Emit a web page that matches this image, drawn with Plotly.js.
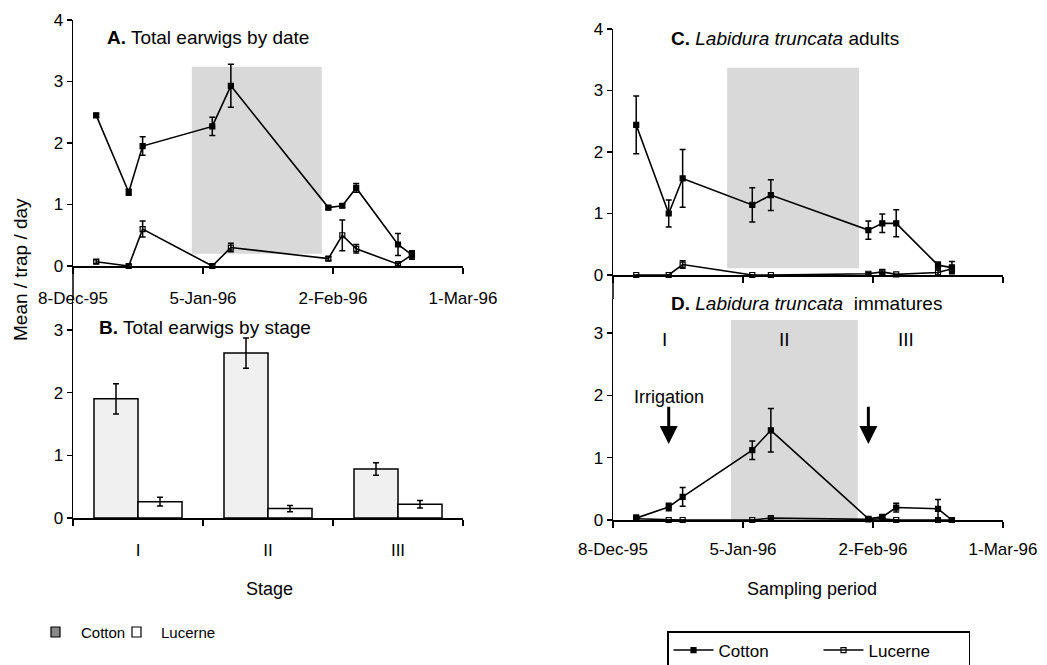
<!DOCTYPE html>
<html>
<head>
<meta charset="utf-8">
<script src="https://cdn.plot.ly/plotly-3.0.1.min.js"></script>
<style>html,body{margin:0;padding:0;background:#fff;}#chart{width:1047px;height:665px;}</style>
</head>
<body>
<div id="chart"></div>
<script>
// ---------- data ----------
const dates = ['1995-12-13','1995-12-20','1995-12-23','1996-01-07','1996-01-11','1996-02-01','1996-02-04','1996-02-07','1996-02-16','1996-02-19'];
const dateTickVals = ['1995-12-08','1996-01-05','1996-02-02','1996-03-01'];
const dateTickText = ['8-Dec-95','5-Jan-96','2-Feb-96','1-Mar-96'];

// A. Total earwigs by date
const totalCotton     = [2.45, 1.20, 1.95, 2.27, 2.93, 0.95, 0.98, 1.27, 0.35, 0.18];
const totalCottonErr  = [0.03, 0.05, 0.15, 0.15, 0.35, 0.03, 0.03, 0.07, 0.18, 0.07];
const totalLucerne    = [0.07, 0.00, 0.60, 0.00, 0.30, 0.12, 0.50, 0.28, 0.03, 0.18];
const totalLucerneErr = [0.03, 0.02, 0.13, 0.02, 0.07, 0.03, 0.25, 0.07, 0.02, 0.05];

// B. Total earwigs by stage
const stages = ['I', 'II', 'III'];
const stageCotton     = [1.90, 2.63, 0.78];
const stageCottonErr  = [0.24, 0.24, 0.10];
const stageLucerne    = [0.26, 0.15, 0.22];
const stageLucerneErr = [0.07, 0.05, 0.06];

// C. Labidura truncata adults
const adultCotton     = [2.44, 1.00, 1.57, 1.14, 1.30, 0.73, 0.84, 0.84, 0.16, 0.12];
const adultCottonErr  = [0.47, 0.22, 0.47, 0.28, 0.25, 0.15, 0.15, 0.22, 0.05, 0.10];
const adultLucerne    = [0.00, 0.00, 0.17, 0.00, 0.00, 0.02, 0.05, 0.01, 0.04, 0.10];
const adultLucerneErr = [0.00, 0.00, 0.06, 0.00, 0.00, 0.02, 0.03, 0.00, 0.04, 0.06];

// D. Labidura truncata immatures
const immCotton       = [0.03, 0.21, 0.37, 1.12, 1.44, 0.02, 0.05, 0.20, 0.18, 0.00];
const immCottonErr    = [0.05, 0.06, 0.15, 0.15, 0.35, 0.02, 0.03, 0.07, 0.15, 0.02];
const immLucerne      = [0.02, 0.00, 0.00, 0.00, 0.03, 0.01, 0.02, 0.00, 0.00, 0.00];
const immLucerneErr   = [0.02, 0.00, 0.00, 0.00, 0.02, 0.00, 0.00, 0.00, 0.00, 0.00];

// shaded period (stage II) per panel
const shadeA = {x0: '1996-01-02 14:00', x1: '1996-01-30 14:00', y0: 0.2, y1: 3.24};
const shadeC = {x0: '1996-01-01 14:00', x1: '1996-01-30 00:00', y0: 0.11, y1: 3.37};
const shadeD = {x0: '1996-01-02 10:00', x1: '1996-01-29 17:00', y0: 0.0, y1: 3.21};

// irrigation dates and stage label positions in panel D
const irrigationDates = ['1995-12-20', '1996-02-01'];
const stageLabelDates = ['1995-12-19', '1996-01-14', '1996-02-09'];

// bar-panel key labels
const barKeyNames = ['Cotton', 'Lucerne'];

// ---------- helpers ----------
const W = 1047, H = 665;
const px = v => v / W;
const py = v => 1 - v / H;
const FONT = 'Liberation Sans, Arial, Helvetica, sans-serif';

function lineTrace(x, y, err, xa, ya, name, filled, showLegend) {
  return {
    type: 'scatter', mode: 'lines+markers', x: x, y: y,
    xaxis: xa, yaxis: ya, name: name, showlegend: showLegend,
    line: {color: '#000', width: 1.6},
    marker: {symbol: filled ? 'square' : 'square-open', size: 5, color: '#000', line: {color: '#000', width: 1.2}},
    error_y: {type: 'data', array: err, visible: true, color: '#000', thickness: 1.5, width: 3},
    cliponaxis: false
  };
}

const traces = [
  lineTrace(dates, totalCotton, totalCottonErr, 'x', 'y', 'Cotton', true, false),
  lineTrace(dates, totalLucerne, totalLucerneErr, 'x', 'y', 'Lucerne', false, false),
  {
    type: 'bar', x: stages, y: stageCotton, xaxis: 'x2', yaxis: 'y2', name: 'Cotton', showlegend: false,
    marker: {color: '#f0f0f0', line: {color: '#000', width: 1.5}},
    error_y: {type: 'data', array: stageCottonErr, color: '#000', thickness: 1.5, width: 3}
  },
  {
    type: 'bar', x: stages, y: stageLucerne, xaxis: 'x2', yaxis: 'y2', name: 'Lucerne', showlegend: false,
    marker: {color: '#ffffff', line: {color: '#000', width: 1.5}},
    error_y: {type: 'data', array: stageLucerneErr, color: '#000', thickness: 1.5, width: 3}
  },
  lineTrace(dates, adultCotton, adultCottonErr, 'x3', 'y3', 'Cotton', true, true),
  lineTrace(dates, adultLucerne, adultLucerneErr, 'x3', 'y3', 'Lucerne', false, true),
  lineTrace(dates, immCotton, immCottonErr, 'x4', 'y4', 'Cotton', true, false),
  lineTrace(dates, immLucerne, immLucerneErr, 'x4', 'y4', 'Lucerne', false, false)
];

const tickFont = {family: FONT, size: 17, color: '#000'};
function dateAxis(x0, x1, anchor, labels, standoff) {
  return {
    type: 'date', domain: [px(x0), px(x1)], anchor: anchor,
    range: ['1995-12-08', '1996-03-01'],
    tickmode: 'array', tickvals: dateTickVals, ticktext: dateTickText, showticklabels: labels,
    showline: true, linecolor: '#000', linewidth: 1.5,
    ticks: 'outside', ticklen: 6, tickwidth: 1.3, tickcolor: '#000', ticklabelstandoff: standoff,
    showgrid: false, zeroline: false, tickfont: tickFont, fixedrange: true, automargin: false
  };
}
function valAxis(yTopPx, yBotPx, top, anchor) {
  return {
    domain: [py(yBotPx), py(yTopPx)], anchor: anchor,
    range: [0, top], tickmode: 'linear', tick0: 0, dtick: 1,
    showline: true, linecolor: '#000', linewidth: 1.5,
    ticks: 'outside', ticklen: 5, tickwidth: 1.3, tickcolor: '#000',
    showgrid: false, zeroline: false, tickfont: tickFont, fixedrange: true, automargin: false
  };
}

function shadeShape(s, xr, yr) {
  return {type: 'rect', xref: xr, yref: yr, x0: s.x0, x1: s.x1, y0: s.y0, y1: s.y1,
          fillcolor: '#d9d9d9', line: {width: 0}, layer: 'below'};
}

const shapes = [
  shadeShape(shadeA, 'x', 'y'),
  shadeShape(shadeC, 'x3', 'y3'),
  shadeShape(shadeD, 'x4', 'y4'),
  {type: 'line', xref: 'paper', yref: 'paper', x0: px(73), x1: px(73), y0: py(266), y1: py(300), line: {color: '#000', width: 1.5}},
  {type: 'line', xref: 'paper', yref: 'paper', x0: px(613), x1: px(613), y0: py(275), y1: py(299), line: {color: '#000', width: 1.5}},
  // key swatches for the bar panel
  {type: 'rect', xref: 'paper', yref: 'paper', x0: px(51), x1: px(60), y0: py(637), y1: py(627),
   fillcolor: '#8a8a8a', line: {color: '#000', width: 1.2}},
  {type: 'rect', xref: 'paper', yref: 'paper', x0: px(132), x1: px(141), y0: py(637), y1: py(627),
   fillcolor: '#fff', line: {color: '#000', width: 1.2}}
];

const annFont = {family: FONT, size: 19, color: '#000'};
const annotations = [
  {xref: 'paper', yref: 'paper', x: px(105), y: py(37), xanchor: 'left', yanchor: 'middle', showarrow: false,
   text: '<b>A.</b> Total earwigs by date', font: annFont},
  {xref: 'paper', yref: 'paper', x: px(97), y: py(327), xanchor: 'left', yanchor: 'middle', showarrow: false,
   text: '<b>B.</b> Total earwigs by stage', font: annFont},
  {xref: 'paper', yref: 'paper', x: px(669), y: py(38), xanchor: 'left', yanchor: 'middle', showarrow: false,
   text: '<b>C.</b> <i>Labidura truncata</i> adults', font: annFont},
  {xref: 'paper', yref: 'paper', x: px(669), y: py(304), xanchor: 'left', yanchor: 'middle', showarrow: false,
   text: '<b>D.</b> <i>Labidura truncata</i>  immatures', font: annFont},
  {xref: 'paper', yref: 'paper', x: px(20), y: py(270), xanchor: 'center', yanchor: 'middle', showarrow: false,
   textangle: -90, text: 'Mean / trap / day', font: {family: FONT, size: 19, color: '#000'}},
  {xref: 'paper', yref: 'paper', x: px(269), y: py(589), xanchor: 'center', yanchor: 'middle', showarrow: false,
   text: 'Stage', font: {family: FONT, size: 18, color: '#000'}},
  {xref: 'paper', yref: 'paper', x: px(812), y: py(589), xanchor: 'center', yanchor: 'middle', showarrow: false,
   text: 'Sampling period', font: {family: FONT, size: 18, color: '#000'}},
  {xref: 'paper', yref: 'paper', x: px(79), y: py(632), xanchor: 'left', yanchor: 'middle', showarrow: false,
   text: barKeyNames[0], font: {family: FONT, size: 15, color: '#000'}},
  {xref: 'paper', yref: 'paper', x: px(159), y: py(632), xanchor: 'left', yanchor: 'middle', showarrow: false,
   text: barKeyNames[1], font: {family: FONT, size: 15, color: '#000'}},
  {xref: 'x4', yref: 'y4', x: irrigationDates[0], y: 1.97, xanchor: 'center', yanchor: 'middle', showarrow: false,
   text: 'Irrigation', font: {family: FONT, size: 18, color: '#000'}},
  {xref: 'x4', yref: 'y4', x: stageLabelDates[0], y: 2.89, showarrow: false, text: 'I', font: annFont},
  {xref: 'x4', yref: 'y4', x: stageLabelDates[1], y: 2.89, showarrow: false, text: 'II', font: annFont},
  {xref: 'x4', yref: 'y4', x: stageLabelDates[2], y: 2.89, showarrow: false, text: 'III', font: annFont}
];
irrigationDates.forEach(function (d) {
  annotations.push({xref: 'x4', yref: 'y4', axref: 'x4', ayref: 'y4', x: d, y: 1.22, ax: d, ay: 1.84,
    showarrow: true, arrowhead: 2, arrowsize: 1.2, arrowwidth: 3, arrowcolor: '#000', text: ''});
});

const layout = {
  width: W, height: H,
  margin: {l: 0, r: 0, t: 0, b: 0, autoexpand: false},
  paper_bgcolor: '#fff', plot_bgcolor: 'rgba(0,0,0,0)',
  font: {family: FONT, size: 17, color: '#000'},
  barmode: 'group', bargap: 0.323, bargroupgap: 0,
  xaxis: dateAxis(73, 463, 'y', true, 10),
  yaxis: valAxis(20, 266, 4, 'x'),
  xaxis2: {
    type: 'category', domain: [px(73), px(463)], anchor: 'y2', range: [-0.5, 2.5],
    tickson: 'boundaries', ticks: 'outside', ticklen: 6, tickwidth: 1.3, tickcolor: '#000',
    showline: true, linecolor: '#000', linewidth: 1.5, showgrid: false, zeroline: false,
    tickfont: tickFont, ticklabelstandoff: 16, fixedrange: true, automargin: false
  },
  yaxis2: valAxis(300, 518, (518 - 300) / 62.7, 'x2'),
  xaxis3: dateAxis(613, 1003, 'y3', false, 6),
  yaxis3: valAxis(29, 275, 4, 'x3'),
  xaxis4: dateAxis(613, 1003, 'y4', true, 7),
  yaxis4: valAxis(299, 520, (520 - 299) / 62.3, 'x4'),
  shapes: shapes,
  annotations: annotations,
  legend: {
    orientation: 'h', x: px(667), y: py(631), xanchor: 'left', yanchor: 'top',
    font: {family: FONT, size: 17, color: '#000'}, bgcolor: '#fff',
    bordercolor: '#000', borderwidth: 1.5, entrywidth: 95, entrywidthmode: 'pixels',
    itemwidth: 40, traceorder: 'normal'
  },
  showlegend: true
};

Plotly.newPlot('chart', traces, layout, {staticPlot: true, displayModeBar: false});
</script>
</body>
</html>
